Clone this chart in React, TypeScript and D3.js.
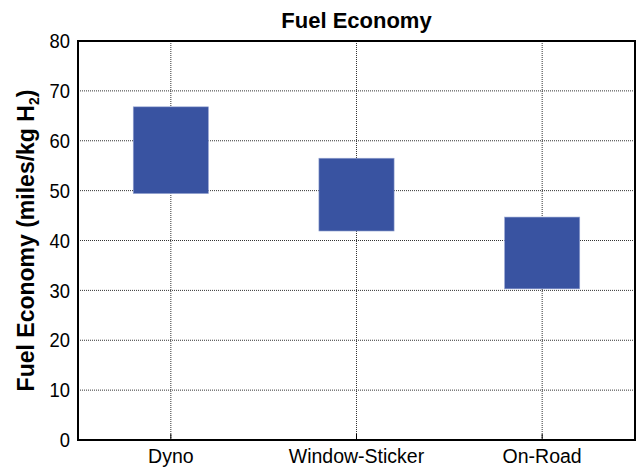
import React from "react";
import * as d3 from "d3";

const categories = ["Dyno", "Window-Sticker", "On-Road"];
const lowValues = [49.4, 41.9, 30.3];
const highValues = [66.8, 56.5, 44.7];
const yTicks = [0, 10, 20, 30, 40, 50, 60, 70, 80];

export default function App() {
  const W = 636, H = 469;
  const m = { left: 78, right: 1, top: 41, bottom: 29 };
  const x = d3.scaleBand().domain(categories).range([m.left, W - m.right]).padding(0);
  const y = d3.scaleLinear().domain([0, 80]).range([H - m.bottom, m.top]);
  const barW = x.bandwidth() * 0.405;
  const font = "Arial, 'Liberation Sans', sans-serif";
  return (
    <svg width={W} height={H} style={{ position: "absolute", left: 0, top: 0, background: "#fff" }}>
      <text x={(m.left + W - m.right) / 2} y={28} textAnchor="middle" fontFamily={font} fontWeight="bold" fontSize={22}>Fuel Economy</text>
      {yTicks.map((t) => (
        <g key={t}>
          {t > 0 && t < 80 && (
            <line x1={m.left} x2={W - m.right} y1={y(t)} y2={y(t)} stroke="#333" strokeWidth={1} strokeDasharray="1,1" />
          )}
          <text transform={`translate(70,${y(t)}) scale(0.92,1)`} dy="0.36em" textAnchor="end" fontFamily={font} fontSize={20}>{t}</text>
        </g>
      ))}
      {categories.map((c) => {
        const cx = (x(c) as number) + x.bandwidth() / 2;
        return (
          <g key={c}>
            <line x1={cx} x2={cx} y1={m.top} y2={H - m.bottom} stroke="#333" strokeWidth={1} strokeDasharray="1,1" />
            <line x1={cx} x2={cx} y1={H - m.bottom} y2={H - m.bottom - 6} stroke="#000" strokeWidth={1} />
            <text x={cx} y={463} textAnchor="middle" fontFamily={font} fontSize={19.5}>{c}</text>
          </g>
        );
      })}
      {categories.map((c, i) => {
        const cx = (x(c) as number) + x.bandwidth() / 2;
        return (
          <rect key={c} x={cx - barW / 2} y={y(highValues[i])} width={barW} height={y(lowValues[i]) - y(highValues[i])}
            fill="#3953A1" stroke="#9aa8d4" strokeWidth={0.6} />
        );
      })}
      <rect x={m.left} y={m.top} width={W - m.right - m.left} height={H - m.bottom - m.top} fill="none" stroke="#000" strokeWidth={2} />
      <text transform={`translate(34,${(m.top + H - m.bottom) / 2}) rotate(-90)`} textAnchor="middle" fontFamily={font} fontWeight="bold" fontSize={23}>
        Fuel Economy (miles/kg H<tspan fontSize={14} dy={5}>2</tspan><tspan dy={-5}>)</tspan>
      </text>
    </svg>
  );
}
